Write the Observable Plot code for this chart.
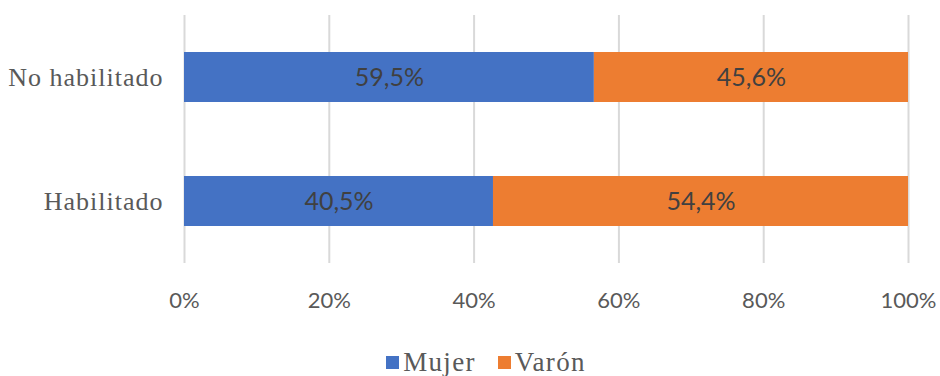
<!DOCTYPE html>
<html>
<head>
<meta charset="utf-8">
<script src="https://cdn.jsdelivr.net/npm/d3@7"></script>
<script src="https://cdn.jsdelivr.net/npm/@observablehq/plot@0.6"></script>
<style>
  body { margin: 0; background: #fff; }
  #chart { width: 940px; }
  .legend { display: flex; justify-content: center; align-items: center; gap: 22px; height: 40px; margin-top: 12px;
    font-family: "Liberation Serif", "Times New Roman", serif; font-size: 27px; letter-spacing: 1.3px; color: #595959; padding-left: 32px; }
  .legend span.item { display: flex; align-items: center; }
  .legend span.sw { display: inline-block; width: 13px; height: 13px; margin-right: 4px; }
</style>
</head>
<body>
<div id="chart"></div>
<script>
const categories = ["No habilitado", "Habilitado"];
const series = ["Mujer", "Varón"];
const mujer = [59.5, 40.5];
const varon = [45.6, 54.4];
const xTicks = [0, 0.2, 0.4, 0.6, 0.8, 1];
const colors = ["#4472C4", "#ED7D31"];

const data = [];
categories.forEach((c, i) => data.push({cat: c, serie: series[0], value: mujer[i]}));
categories.forEach((c, i) => data.push({cat: c, serie: series[1], value: varon[i]}));

const fmt = v => v.toFixed(1).replace(".", ",") + "%";

const chart = Plot.plot({
  width: 940,
  height: 330,
  marginLeft: 184,
  marginRight: 32,
  marginTop: 15,
  marginBottom: 67,
  style: {background: "#fff"},
  x: {domain: [0, 1], ticks: xTicks, tickFormat: d => Math.round(d * 100) + "%", label: null},
  y: {domain: categories, label: null, paddingInner: 0.6, paddingOuter: 0.3},
  color: {domain: series, range: colors},
  marks: [
    Plot.ruleX(xTicks, {stroke: "#d9d9d9", strokeWidth: 2}),
    Plot.barX(data, Plot.stackX({x: "value", y: "cat", z: "serie", fill: "serie", offset: "normalize", order: null})),
    Plot.textX(data, Plot.stackX({x: "value", y: "cat", z: "serie", offset: "normalize", order: null,
      text: d => fmt(d.value), fill: "#404040", fontSize: 25, fontFamily: "Lato, 'Open Sans', sans-serif"})),
    Plot.axisX({ticks: xTicks, tickFormat: d => Math.round(d * 100) + "%", tickSize: 0, tickPadding: 29,
      fontSize: 22, fontFamily: "Lato, 'Open Sans', sans-serif", color: "#595959", label: null}),
    Plot.axisY({tickSize: 0, tickPadding: 21, fontSize: 26, fontFamily: "'Liberation Serif', 'Times New Roman', serif",
      color: "#595959", label: null})
  ]
});
chart.style.overflow = "visible";
d3.select(chart).selectAll('g[aria-label="y-axis tick label"] text').attr("letter-spacing", "1px");
document.getElementById("chart").appendChild(chart);

const legend = document.createElement("div");
legend.className = "legend";
series.forEach((s, i) => {
  const item = document.createElement("span");
  item.className = "item";
  const sw = document.createElement("span");
  sw.className = "sw";
  sw.style.background = colors[i];
  item.appendChild(sw);
  item.appendChild(document.createTextNode(s));
  legend.appendChild(item);
});
document.getElementById("chart").appendChild(legend);
</script>
</body>
</html>
